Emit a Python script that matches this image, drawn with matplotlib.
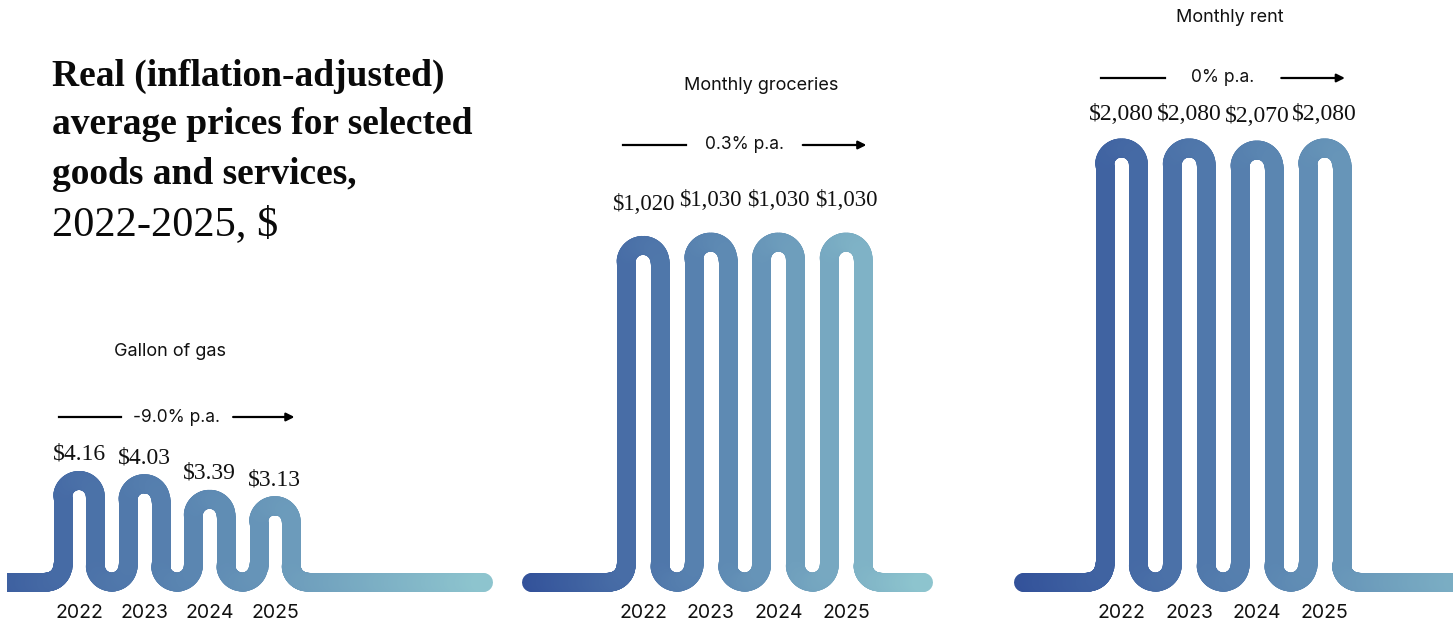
import numpy as np
import matplotlib.pyplot as plt
from matplotlib.collections import LineCollection
from matplotlib.colors import LinearSegmentedColormap
from matplotlib.transforms import blended_transform_factory

years = [2022, 2023, 2024, 2025]
year_labels = ['2022', '2023', '2024', '2025']

gas_prices = [4.16, 4.03, 3.39, 3.13]
grocery_prices = [1020, 1030, 1030, 1030]
rent_prices = [2080, 2080, 2070, 2080]

gas_labels = ['$4.16', '$4.03', '$3.39', '$3.13']
grocery_labels = ['$1,020', '$1,030', '$1,030', '$1,030']
rent_labels = ['$2,080', '$2,080', '$2,070', '$2,080']

panel_titles = ['Gallon of gas', 'Monthly groceries', 'Monthly rent']
growth_labels = ['-9.0% p.a.', '0.3% p.a.', '0% p.a.']

title_lines = ['Real (inflation-adjusted)', 'average prices for selected',
               'goods and services,', '2022-2025, $']

W, H = 1453, 623
SERIF = 'Liberation Serif'
SANS = 'Inter'
LINE_PX = 19
BASE_PX = 582  # baseline of the snake, from the top

cmap = LinearSegmentedColormap.from_list('snake', ['#33529a', '#5e8ab3', '#8dc4ce'])

# per-panel layout, in pixels unless noted
layout = [
    dict(vals=gas_prices, labels=gas_labels, left=7, right=500, x0=79, ppy=65.3,
         top=23.85, x_start=2019.9, x_end=2028.19, title_x=2023.4, title_y=351,
         growth_y=417, pad=8, fs=17),
    dict(vals=grocery_prices, labels=grocery_labels, left=505, right=1000, x0=643, ppy=67.7,
         top=1763.6, x_start=2020.35, x_end=2026.14, title_x=2023.75, title_y=86,
         growth_y=145, pad=19, fs=16.5),
    dict(vals=rent_prices, labels=rent_labels, left=1005, right=1453, x0=1121.5, ppy=67.7,
         top=2788.7, x_start=2020.55, x_end=2028.5, title_x=2023.6, title_y=17,
         growth_y=78, pad=13, fs=17),
]


def snake_points(xs, vals, x_start, x_end, d, ry):
    pts = []

    def arc(cx, cy, a0, a1, n=40):
        t = np.radians(np.linspace(a0, a1, n))
        return list(zip(cx + d * np.cos(t), cy + ry * np.sin(t)))

    first_leg = xs[0] - d
    pts += list(zip(np.linspace(x_start, first_leg - d, 120), np.zeros(120)))
    pts += arc(first_leg - d, ry, -90, 0)
    for i, (x, v) in enumerate(zip(xs, vals)):
        pts += arc(x, v - ry, 180, 0)
        if i < len(xs) - 1:
            pts += arc((x + xs[i + 1]) / 2, ry, 180, 360)
        else:
            pts += arc(x + 2 * d, ry, 180, 270)
    last = pts[-1][0]
    pts += list(zip(np.linspace(last, x_end, 120), np.zeros(120)))
    return np.array(pts)


fig = plt.figure(figsize=(W / 100, H / 100), dpi=100)

for i, p in enumerate(layout):
    ax = fig.add_axes([p['left'] / W, 0, (p['right'] - p['left']) / W, 1])
    ax.set_axis_off()
    ax.set_xlim(2022 - (p['x0'] - p['left']) / p['ppy'], 2022 + (p['right'] - p['x0']) / p['ppy'])
    ax.set_ylim(-p['top'] * (H - BASE_PX) / BASE_PX, p['top'])

    o = ax.transData.transform((0, 0))
    sx = ax.transData.transform((1, 0))[0] - o[0]
    sy = ax.transData.transform((0, 1))[1] - o[1]
    d = 0.25
    ry = d * sx / sy

    pts = snake_points(years, p['vals'], p['x_start'], p['x_end'], d, ry)
    segs = np.stack([pts[:-1], pts[1:]], axis=1)
    mid = (segs[:, 0, 0] + segs[:, 1, 0]) / 2
    colors = cmap((mid - p['x_start']) / (p['x_end'] - p['x_start']))
    lc = LineCollection(segs, colors=colors, linewidths=LINE_PX * 0.72)
    lc.set_capstyle('round')
    lc.set_joinstyle('round')
    ax.add_collection(lc)

    for yr, v, lab in zip(years, p['vals'], p['labels']):
        ax.annotate(lab, xy=(yr, v), xytext=(0, p['pad'] + LINE_PX * 0.36),
                    textcoords='offset points', ha='center', va='baseline',
                    fontsize=p['fs'], family=SERIF, color='#111111')

    tr = blended_transform_factory(ax.transData, fig.transFigure)
    for yr, lab in zip(years, year_labels):
        ax.text(yr, 1 - 613 / H, lab, transform=tr, ha='center', va='center',
                fontsize=14, family=SANS, color='#111111')

    ax.text(p['title_x'], 1 - p['title_y'] / H, panel_titles[i], transform=tr,
            ha='center', va='center', fontsize=13, family=SANS, color='#111111')

    gy = 1 - p['growth_y'] / H
    c = 2023.5
    ax.text(c, gy, growth_labels[i], transform=tr, ha='center', va='center',
            fontsize=12.5, family=SANS, color='#111111')
    ax.plot([c - 1.8, c - 0.86], [gy, gy], transform=tr, color='black', lw=1.6,
            clip_on=False)
    ax.annotate('', xy=(c + 1.8, gy), xytext=(c + 0.86, gy), xycoords=tr,
                textcoords=tr, arrowprops=dict(arrowstyle='-|>', color='black',
                                               lw=1.6, mutation_scale=12,
                                               shrinkA=0, shrinkB=0))

# heading: three bold lines, then the period in regular weight
for j, (line, base) in enumerate(zip(title_lines, [86, 134, 184, 235])):
    fig.text(52 / W, 1 - base / H, line, ha='left', va='baseline',
             fontsize=27 if j < 3 else 30.5,
             family=SERIF, weight='bold' if j < 3 else 'normal', color='#0a0a0a')

fig.savefig('out.png', dpi=100, facecolor='white')
